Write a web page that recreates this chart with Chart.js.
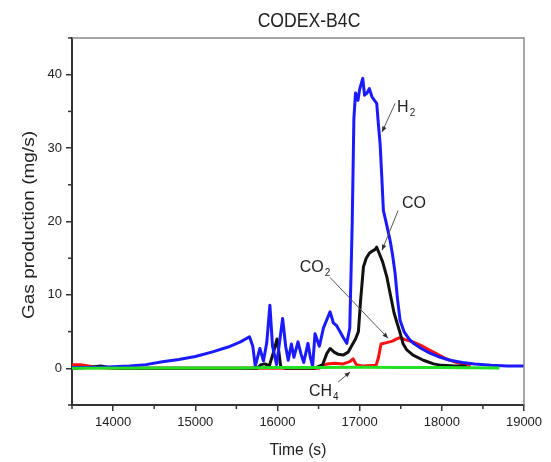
<!DOCTYPE html>
<html>
<head>
<meta charset="utf-8">
<script src="https://cdn.jsdelivr.net/npm/chart.js@4.4.0/dist/chart.umd.min.js"></script>
<style>
  html, body { margin: 0; padding: 0; background: #fff; }
</style>
</head>
<body>
<canvas id="grafico" width="551" height="462"></canvas>
<script>
// H2 (blue)
const tempoH2 = [13500, 13600, 13800, 14000, 14200, 14400, 14600, 14800, 15000, 15200, 15400, 15550, 15660, 15700, 15730, 15786, 15830, 15870, 15908, 15940, 15990, 16063, 16100, 16131, 16170, 16200, 16250, 16285, 16320, 16371, 16400, 16428, 16457, 16510, 16560, 16640, 16680, 16720, 16760, 16800, 16843, 16880, 16910, 16930, 16950, 16980, 17000, 17038, 17060, 17090, 17118, 17150, 17180, 17208, 17230, 17249, 17270, 17289, 17330, 17371, 17400, 17432, 17460, 17493, 17540, 17600, 17655, 17750, 17850, 17980, 18100, 18250, 18400, 18600, 18800, 19000];
const h2 = [0.1, 0.1, 0.1, 0.2, 0.3, 0.5, 0.9, 1.2, 1.6, 2.2, 2.9, 3.6, 4.3, 3.0, 0.3, 2.7, 1.0, 3.5, 8.6, 3.0, 0.5, 6.8, 3.0, 1.1, 3.3, 1.5, 3.6, 2.0, 0.8, 3.4, 1.5, 0.3, 4.7, 3.0, 5.5, 7.7, 6.2, 5.8, 5.0, 4.2, 3.4, 5.5, 20, 34, 37.5, 36.5, 38, 39.5, 37.2, 37.5, 38.1, 37.0, 36.5, 36.1, 33, 30.6, 26, 21.5, 19.5, 17.4, 15.5, 12.9, 9.5, 6.5, 5.0, 4.0, 3.4, 2.7, 2.1, 1.5, 1.1, 0.8, 0.6, 0.4, 0.3, 0.3];

// CO (black)
const tempoCO = [13500, 13700, 13850, 13950, 14100, 15750, 15800, 15850, 15900, 15960, 15995, 16020, 16040, 16100, 16450, 16550, 16600, 16640, 16690, 16740, 16800, 16860, 16900, 16950, 16985, 17010, 17046, 17080, 17120, 17160, 17190, 17208, 17240, 17280, 17330, 17371, 17420, 17460, 17493, 17530, 17574, 17650, 17775, 17900, 18000, 18150, 18300];
const co = [0, 0.1, 0.3, 0.1, 0, 0, 0.5, 0.6, 0.3, 2.5, 4.0, 2.0, 0.2, 0, 0, 0.5, 2.0, 2.7, 2.2, 1.9, 1.8, 2.2, 3.0, 4.0, 5.0, 9.0, 13.8, 15.0, 15.7, 16.0, 16.2, 16.5, 15.6, 14.5, 12.5, 10.2, 7.5, 6.0, 4.8, 3.3, 2.5, 1.8, 1.1, 0.6, 0.4, 0.3, 0.3];

// CO2 (red)
const tempoCO2 = [13500, 13600, 13700, 13800, 14000, 16500, 16550, 16600, 16700, 16800, 16880, 16920, 16960, 17050, 17200, 17230, 17260, 17330, 17400, 17450, 17500, 17550, 17650, 17750, 17850, 17950, 18050, 18150, 18250, 18350];
const co2 = [0.5, 0.5, 0.3, 0.1, 0, 0, 0.2, 0.6, 0.7, 0.6, 0.9, 1.3, 0.5, 0.3, 0.4, 1.5, 3.3, 3.5, 3.7, 4.0, 4.2, 3.9, 3.6, 3.1, 2.5, 1.9, 1.3, 0.9, 0.6, 0.3];

// CH4 (green)
const tempoCH4 = [13500, 14500, 15500, 16000, 16500, 17000, 17500, 18000, 18700];
const ch4 = [0, 0.05, 0.05, 0.1, 0.1, 0.15, 0.1, 0.1, 0.05];

const xTicks = [14000, 15000, 16000, 17000, 18000, 19000];
const xMinor = [13500, 14500, 15500, 16500, 17500, 18500];
const yTicks = [0, 10, 20, 30, 40];
const yMinor = [-5, 5, 15, 25, 35, 45];

// rótulos das curvas: posição do texto e da seta em coordenadas dos dados
const rotulos = [
    { texto: "H", sub: "2", x: 17456, y: 34.9, de: [17432, 36.1], ate: [17273, 32.2] },
    { texto: "CO", sub: "", x: 17516, y: 21.9, de: [17468, 21.5], ate: [17273, 16.1] },
    { texto: "CO", sub: "2", x: 16272, y: 13.1, de: [16638, 12.4], ate: [17345, 4.1] },
    { texto: "CH", sub: "4", x: 16384, y: -3.8, de: [16737, -1.9], ate: [16884, -0.5] },
];

const fonte = "'Liberation Sans', Arial, sans-serif";

function pontos(tempos, valores) {
    return tempos.map((t, i) => ({ x: t, y: valores[i] }));
}

function seta(ctx, x1, y1, x2, y2) {
    ctx.beginPath();
    ctx.moveTo(x1, y1);
    ctx.lineTo(x2, y2);
    ctx.stroke();
    const ang = Math.atan2(y2 - y1, x2 - x1);
    ctx.beginPath();
    ctx.moveTo(x2, y2);
    ctx.lineTo(x2 - 6 * Math.cos(ang - 0.4), y2 - 6 * Math.sin(ang - 0.4));
    ctx.lineTo(x2 - 6 * Math.cos(ang + 0.4), y2 - 6 * Math.sin(ang + 0.4));
    ctx.closePath();
    ctx.fill();
}

const moldura = {
    id: "moldura",
    afterDraw(chart) {
        const ctx = chart.ctx;
        const area = chart.chartArea;
        const sx = chart.scales.x;
        const sy = chart.scales.y;
        ctx.save();

        // borda de cima e da direita
        ctx.strokeStyle = "#888";
        ctx.lineWidth = 1.5;
        ctx.beginPath();
        ctx.moveTo(area.left, area.top);
        ctx.lineTo(area.right, area.top);
        ctx.lineTo(area.right, area.bottom);
        ctx.stroke();

        // ticks menores
        ctx.strokeStyle = "#333";
        ctx.lineWidth = 1.5;
        xMinor.forEach(v => {
            const px = sx.getPixelForValue(v);
            ctx.beginPath();
            ctx.moveTo(px, area.bottom);
            ctx.lineTo(px, area.bottom + 4);
            ctx.stroke();
        });
        yMinor.forEach(v => {
            const py = sy.getPixelForValue(v);
            ctx.beginPath();
            ctx.moveTo(area.left, py);
            ctx.lineTo(area.left - 4, py);
            ctx.stroke();
        });

        // títulos
        ctx.fillStyle = "#222";
        ctx.textBaseline = "middle";
        ctx.textAlign = "center";

        ctx.save();
        ctx.translate(309, 21);
        ctx.scale(0.88, 1);
        ctx.font = "20px " + fonte;
        ctx.fillText("CODEX-B4C", 0, 0);
        ctx.restore();

        ctx.save();
        ctx.translate(298, 450);
        ctx.scale(0.92, 1);
        ctx.font = "17px " + fonte;
        ctx.fillText("Time (s)", 0, 0);
        ctx.restore();

        ctx.save();
        ctx.translate(30, 225);
        ctx.rotate(-Math.PI / 2);
        ctx.scale(1, 0.85);
        ctx.font = "19px " + fonte;
        ctx.fillText("Gas production (mg/s)", 0, 0);
        ctx.restore();

        // rótulos com setas
        ctx.strokeStyle = "#555";
        ctx.fillStyle = "#333";
        ctx.lineWidth = 1;
        rotulos.forEach(r => {
            seta(ctx,
                sx.getPixelForValue(r.de[0]), sy.getPixelForValue(r.de[1]),
                sx.getPixelForValue(r.ate[0]), sy.getPixelForValue(r.ate[1]));
        });
        ctx.fillStyle = "#222";
        ctx.textAlign = "left";
        ctx.textBaseline = "alphabetic";
        rotulos.forEach(r => {
            const px = sx.getPixelForValue(r.x);
            const py = sy.getPixelForValue(r.y);
            ctx.font = "16px " + fonte;
            ctx.fillText(r.texto, px, py);
            if (r.sub) {
                const w = ctx.measureText(r.texto).width;
                ctx.font = "10px " + fonte;
                ctx.fillText(r.sub, px + w + 1, py + 4);
            }
        });

        ctx.restore();
    }
};

const grafico = new Chart(document.getElementById("grafico"), {
    type: "line",
    data: {
        datasets: [
            { label: "CO2", data: pontos(tempoCO2, co2), borderColor: "#ff1010", borderWidth: 3, order: 4 },
            { label: "CO", data: pontos(tempoCO, co), borderColor: "#111111", borderWidth: 3, order: 3 },
            { label: "H2", data: pontos(tempoH2, h2), borderColor: "#1a1aff", borderWidth: 3, order: 2 },
            { label: "CH4", data: pontos(tempoCH4, ch4), borderColor: "#22e022", borderWidth: 3, order: 1 },
        ],
    },
    options: {
        responsive: false,
        animation: false,
        layout: { padding: { top: 38, right: 27, left: 0, bottom: 0 } },
        elements: {
            point: { radius: 0 },
            line: { tension: 0, borderJoinStyle: "round", fill: false },
        },
        plugins: {
            legend: { display: false },
            title: { display: false },
            tooltip: { enabled: false },
        },
        scales: {
            x: {
                type: "linear",
                min: 13500,
                max: 19000,
                afterBuildTicks: s => { s.ticks = xTicks.map(v => ({ value: v })); },
                afterFit: s => { s.height = 57; },
                ticks: { font: { family: fonte, size: 13 }, color: "#222", padding: 4, maxRotation: 0, autoSkip: false, callback: v => String(v) },
                grid: { drawOnChartArea: false, tickLength: 6, color: "#333", lineWidth: 1.5 },
                border: { color: "#333", width: 2 },
            },
            y: {
                type: "linear",
                min: -5,
                max: 45,
                afterBuildTicks: s => { s.ticks = yTicks.map(v => ({ value: v })); },
                afterFit: s => { s.width = 72; },
                ticks: { font: { family: fonte, size: 13 }, color: "#222", padding: 4, autoSkip: false, callback: v => String(v) },
                grid: { drawOnChartArea: false, tickLength: 6, color: "#333", lineWidth: 1.5 },
                border: { color: "#333", width: 2 },
            },
        },
    },
    plugins: [moldura],
});
</script>
</body>
</html>
